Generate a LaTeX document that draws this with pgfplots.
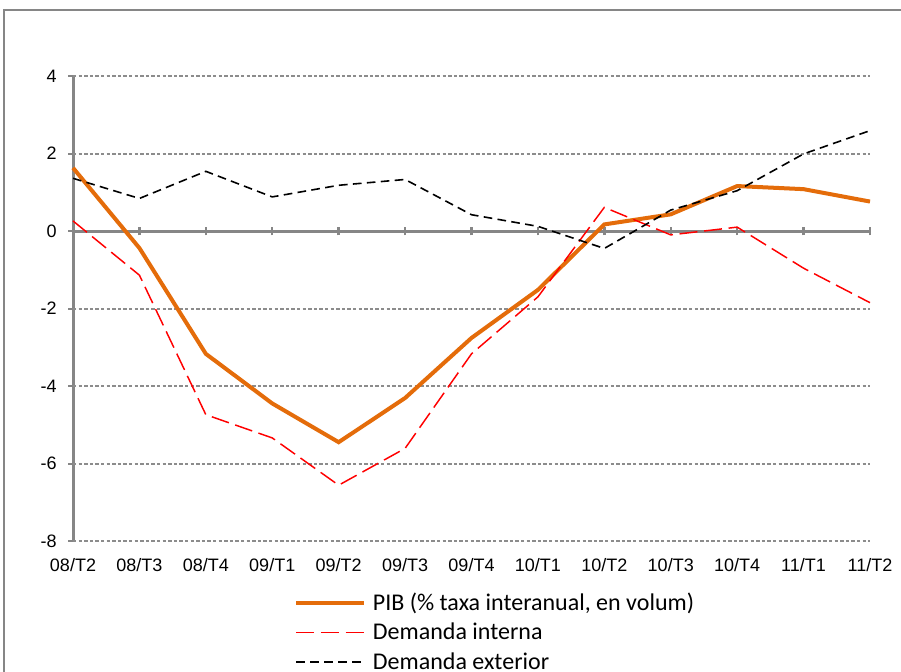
\documentclass[border=0pt]{standalone}
\usepackage{pgfplots}
\pgfplotsset{compat=1.18}
\usepackage{fontspec}
\setmainfont{Liberation Sans}
\newfontfamily\legendfont{Carlito}
\definecolor{pib}{RGB}{228,108,10}
\definecolor{axgray}{RGB}{134,134,134}
\definecolor{gridgray}{RGB}{140,140,140}
\begin{document}
\begin{tikzpicture}[x=0.75pt,y=0.75pt]
\useasboundingbox (0,0) rectangle (901,672);
\draw[axgray, line width=1.5pt] (4,-50) -- (4,662) -- (950,662);
\begin{axis}[
  at={(54.75pt,98.25pt)}, anchor=south west,
  scale only axis, width=597.75pt, height=348.75pt,
  xmin=0, xmax=12, ymin=-8, ymax=4,
  clip=false,
  xtick={0,...,12},
  xticklabels={08/T2,08/T3,08/T4,09/T1,09/T2,09/T3,09/T4,10/T1,10/T2,10/T3,10/T4,11/T1,11/T2},
  ytick={-8,-6,-4,-2,0,2,4},
  axis x line*=bottom, axis y line*=left,
  x axis line style={draw=none},
  y axis line style={axgray, line width=2.25pt, -},
  xtick style={draw=none},
  ytick style={axgray, line width=1.5pt},
  tick align=outside, major tick length=3.75pt,
  /pgf/number format/assume math mode=true,
  ticklabel style={font=\fontsize{13.5}{16}\selectfont},
  yticklabel style={xshift=-5pt},
  xticklabel style={yshift=-6pt},
  legend cell align=left,
  legend style={draw=none, fill=none, font=\legendfont\fontsize{18}{21}\selectfont,
    at={(rel axis cs:0.2773,-0.108)}, anchor=north west, row sep=6pt,
    inner sep=0pt, nodes={inner xsep=5pt, inner ysep=1pt}},
  legend image code/.code={\draw[#1] (0pt,0pt) -- (51pt,0pt);},
]
\pgfplotsinvokeforeach{-8,-6,-4,-2,2,4}{\draw[gridgray, line width=1.5pt, dash pattern=on 2.6pt off 1.6pt] (axis cs:0,#1) -- (axis cs:12,#1);}
\draw[axgray, line width=2.25pt] (axis cs:0,0) -- (axis cs:12,0);
\pgfplotsinvokeforeach{1,...,12}{\draw[axgray, line width=1.8pt] (axis cs:#1,-0.11) -- (axis cs:#1,0.11);}
\addplot[pib, line width=3pt] coordinates {
(0,1.63) (1,-0.44) (2,-3.17) (3,-4.45) (4,-5.45) (5,-4.31) (6,-2.76) (7,-1.52) (8,0.17) (9,0.43) (10,1.16) (11,1.08) (12,0.76)};
\addlegendentry{PIB (\% taxa interanual, en volum)}
\addplot[red, line width=1.1pt, dash pattern=on 13.5pt off 5pt] coordinates {
(0,0.26) (1,-1.14) (2,-4.74) (3,-5.34) (4,-6.56) (5,-5.61) (6,-3.17) (7,-1.70) (8,0.61) (9,-0.10) (10,0.10) (11,-0.96) (12,-1.85)};
\addlegendentry{Demanda interna}
\addplot[black, line width=1.2pt, dash pattern=on 6.5pt off 4pt] coordinates {
(0,1.36) (1,0.84) (2,1.54) (3,0.88) (4,1.18) (5,1.33) (6,0.42) (7,0.12) (8,-0.45) (9,0.54) (10,1.04) (11,1.99) (12,2.59)};
\addlegendentry{Demanda exterior}
\end{axis}
\end{tikzpicture}
\end{document}
